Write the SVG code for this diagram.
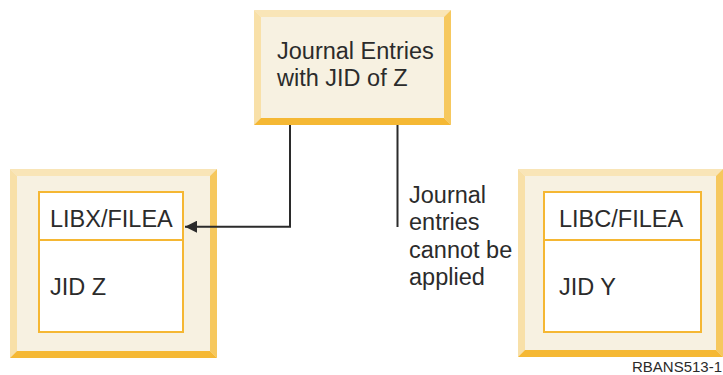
<svg xmlns="http://www.w3.org/2000/svg" width="723" height="375" viewBox="0 0 723 375">
<style>
.face{fill:#F7F1E1}
.bt{fill:#F9E5B7}
.bl{fill:#F8E0A8}
.br{fill:#F6C85E}
.bb{fill:#F5B834}
.inner{fill:#FFFFFF;stroke:#F5B733;stroke-width:2}
.div{stroke:#F5B733;stroke-width:2}
text{font-family:"Liberation Sans",Arial,sans-serif;font-size:23.5px;fill:#2b2b2b}
.small{font-size:15px}
.conn{fill:none;stroke:#2b2b2b;stroke-width:2}
</style>
<defs>
<marker id="arr" markerWidth="12" markerHeight="12" refX="12" refY="6" orient="auto" markerUnits="userSpaceOnUse">
<path d="M0,0 L12,6 L0,12 Z" fill="#2b2b2b"/>
</marker>
</defs>
<rect width="723" height="375" fill="#FFFFFF"/>
<g id="top-node">
<rect class="face" x="254" y="10" width="197" height="115"/>
<polygon class="bt" points="254,10 451,10 444,17 261,17"/>
<polygon class="bl" points="254,10 261,17 261,118 254,125"/>
<polygon class="br" points="451,10 451,125 444,118 444,17"/>
<polygon class="bb" points="254,125 451,125 444,118 261,118"/>
<text x="277" y="58.5">Journal Entries</text>
<text x="277" y="86">with JID of Z</text>
</g>
<g id="left-node">
<rect class="face" x="10" y="169" width="207" height="189"/>
<polygon class="bt" points="10,169 217,169 210,176 17,176"/>
<polygon class="bl" points="10,169 17,176 17,351 10,358"/>
<polygon class="br" points="217,169 217,358 210,351 210,176"/>
<polygon class="bb" points="10,358 217,358 210,351 17,351"/>
<rect class="inner" x="39" y="192" width="144" height="140"/>
<line class="div" x1="39" y1="240" x2="183" y2="240"/>
<text x="50" y="226.5">LIBX/FILEA</text>
<text x="50" y="295">JID Z</text>
</g>
<g id="right-node">
<rect class="face" x="518" y="169" width="205" height="188"/>
<polygon class="bt" points="518,169 723,169 716,176 525,176"/>
<polygon class="bl" points="518,169 525,176 525,350 518,357"/>
<polygon class="br" points="723,169 723,357 716,350 716,176"/>
<polygon class="bb" points="518,357 723,357 716,350 525,350"/>
<rect class="inner" x="544" y="192" width="157" height="140"/>
<line class="div" x1="544" y1="240" x2="701" y2="240"/>
<text x="559" y="226.5">LIBC/FILEA</text>
<text x="559" y="295">JID Y</text>
</g>
<g id="connectors">
<path class="conn" d="M290,125 V226.7 H185" marker-end="url(#arr)"/>
<path class="conn" d="M397.5,125 V227"/>
</g>
<g id="label">
<text x="409" y="203">Journal</text>
<text x="409" y="230">entries</text>
<text x="409" y="257.5">cannot be</text>
<text x="409" y="284.5">applied</text>
</g>
<text class="small" x="722" y="372" text-anchor="end">RBANS513-1</text>
</svg>
